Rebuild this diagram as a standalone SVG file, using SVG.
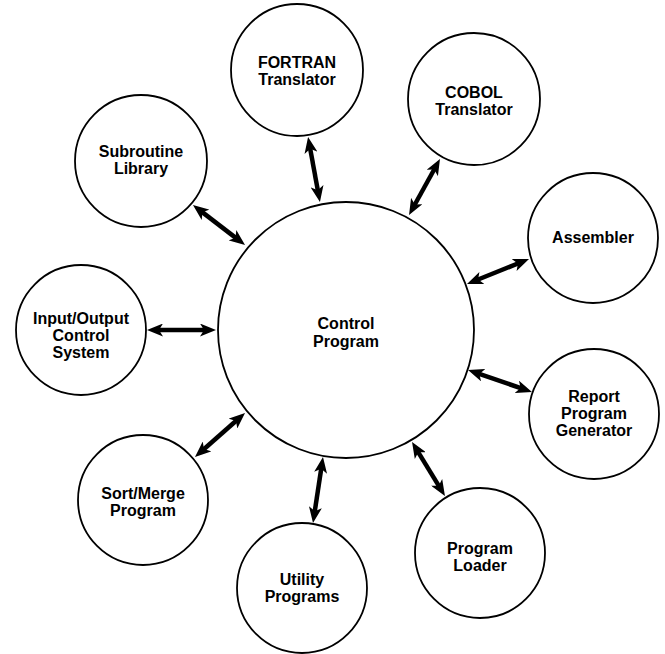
<svg xmlns="http://www.w3.org/2000/svg" width="665" height="654" viewBox="0 0 665 654">
<style>
.node circle{fill:#fff;stroke:#000;stroke-width:1.8}
.node text{font-family:"Liberation Sans",Arial,sans-serif;font-weight:bold;font-size:16px;text-anchor:middle;fill:#000}
.conn line{stroke:#000;stroke-width:4.5;marker-start:url(#ah);marker-end:url(#ah)}
</style>
<defs>
<marker id="ah" viewBox="0 0 16 13" refX="8" refY="6.5" markerWidth="16" markerHeight="13" markerUnits="userSpaceOnUse" orient="auto-start-reverse">
<path d="M0,0 L16,6.5 L0,13 L4,6.5 z" fill="#000"/>
</marker>
</defs>
<rect width="665" height="654" fill="#fff"/>
<g id="connectors" class="conn">
<line x1="309.5" y1="144.9" x2="318.5" y2="194.1"/>
<line x1="436.1" y1="166.0" x2="412.9" y2="208.0"/>
<line x1="199.3" y1="209.9" x2="238.7" y2="240.1"/>
<line x1="521.6" y1="262.0" x2="474.4" y2="281.0"/>
<line x1="155" y1="330" x2="208" y2="330"/>
<line x1="524.4" y1="389.4" x2="475.6" y2="372.6"/>
<line x1="201.0" y1="451.7" x2="239.0" y2="418.3"/>
<line x1="314.2" y1="515.1" x2="321.8" y2="464.9"/>
<line x1="440.8" y1="489.2" x2="416.2" y2="448.8"/>
</g>
<g id="control-program" class="node">
<circle cx="346" cy="330" r="128"/>
<text x="346" y="329">Control</text>
<text x="346" y="347">Program</text>
</g>
<g id="fortran" class="node">
<circle cx="297" cy="70" r="66"/>
<text x="297" y="68">FORTRAN</text>
<text x="297" y="85">Translator</text>
</g>
<g id="cobol" class="node">
<circle cx="474" cy="99" r="66"/>
<text x="474" y="98">COBOL</text>
<text x="474" y="115">Translator</text>
</g>
<g id="subroutine" class="node">
<circle cx="141" cy="161" r="66"/>
<text x="141" y="157">Subroutine</text>
<text x="141" y="174">Library</text>
</g>
<g id="assembler" class="node">
<circle cx="593" cy="238" r="65"/>
<text x="593" y="243">Assembler</text>
</g>
<g id="io-control" class="node">
<circle cx="81" cy="330" r="65"/>
<text x="81" y="324">Input/Output</text>
<text x="81" y="341">Control</text>
<text x="81" y="358">System</text>
</g>
<g id="report" class="node">
<circle cx="594" cy="414" r="65"/>
<text x="594" y="402">Report</text>
<text x="594" y="419">Program</text>
<text x="594" y="436">Generator</text>
</g>
<g id="sort-merge" class="node">
<circle cx="143" cy="500" r="65"/>
<text x="143" y="499">Sort/Merge</text>
<text x="143" y="516">Program</text>
</g>
<g id="utility" class="node">
<circle cx="302" cy="588" r="65"/>
<text x="302" y="585">Utility</text>
<text x="302" y="602">Programs</text>
</g>
<g id="loader" class="node">
<circle cx="480" cy="553" r="65"/>
<text x="480" y="554">Program</text>
<text x="480" y="571">Loader</text>
</g>
</svg>
